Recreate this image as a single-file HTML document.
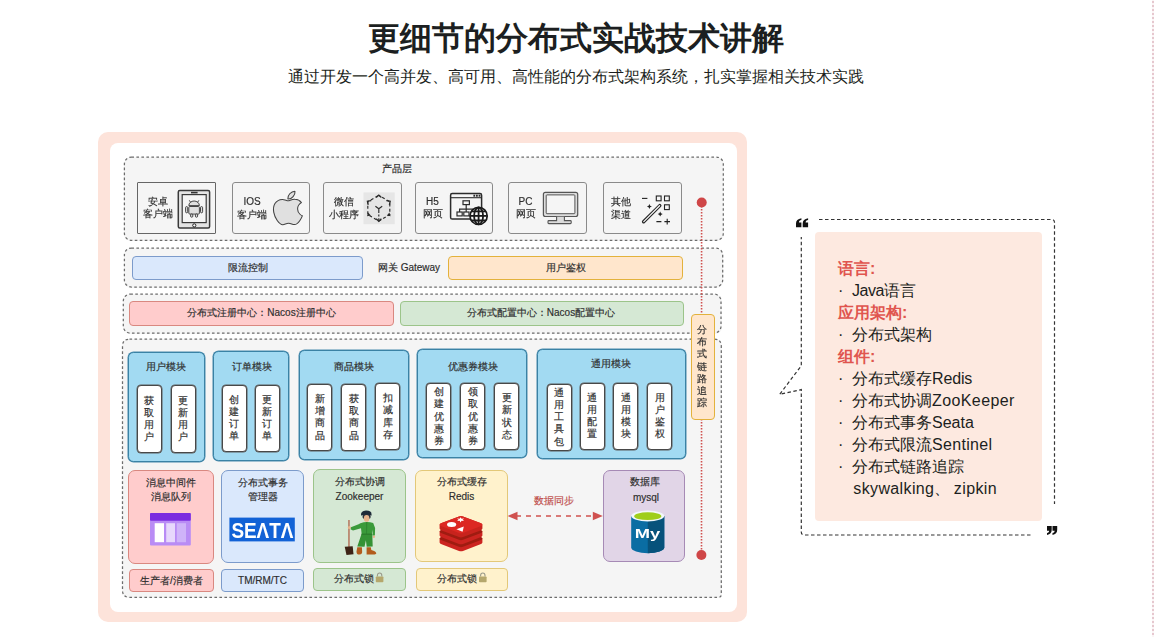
<!DOCTYPE html>
<html lang="zh"><head><meta charset="utf-8"><title>page</title>
<style>
html,body{margin:0;padding:0;background:#fff;}
body{width:1154px;height:637px;position:relative;overflow:hidden;font-family:"Liberation Sans",sans-serif;color:#333;}
.b{position:absolute;box-sizing:border-box;}
.t{position:absolute;text-align:center;font-size:10px;color:#2e2e2e;white-space:nowrap;-webkit-text-stroke:0.17px;}
.v span{display:block;}
h1{position:absolute;left:0;top:15px;width:1152px;margin:0;text-align:center;font-size:32px;line-height:46px;font-weight:bold;color:#1c1f21;letter-spacing:0;}
.sub{position:absolute;left:0;top:65px;width:1152px;text-align:center;font-size:16px;line-height:24px;color:#1c1f21;}
#dg{position:absolute;left:0;top:0;width:770px;height:637px;filter:blur(0.4px);}
.frame{background:#fde3da;border-radius:10px;}
.panel{background:#fff;border-radius:8px;}
.dash{background:#f5f5f5;border-radius:7px;}
.pb{background:#f5f5f5;border:1px solid #8a8a8a;border-radius:3px;}
.blue{background:#dae8fc;border:1px solid #7c9bcb;border-radius:4px;}
.orange{background:#ffe6cc;border:1px solid #e3b23c;border-radius:4px;}
.red{background:#ffcccc;border:1px solid #d98880;border-radius:4px;}
.green{background:#d5e8d4;border:1px solid #9cc48a;border-radius:4px;}
.yellow{background:#fff2cc;border:1px solid #e3c878;border-radius:4px;}
.purple{background:#e1d5e7;border:1px solid #a68ab5;border-radius:4px;}
.mod{background:#a2daf2;border:1px solid #3a82a5;border-radius:5.5px;box-shadow:0 0 0 0.5px #4a8cae;}
.in{background:#fff;border:1px solid #484848;border-radius:4px;box-shadow:0 0 0 0.5px #5c5c5c;}
.big{border-radius:7px;}
svg{position:absolute;overflow:visible;}
.rt{position:absolute;left:838px;font-size:16px;line-height:22px;color:#1c1f21;white-space:nowrap;}
.rt b{color:#e0554f;font-weight:bold;}
.rt i{font-style:normal;display:inline-block;width:14px;}
.rt u{text-decoration:none;letter-spacing:0.45px;}
</style></head><body>
<h1>更细节的分布式实战技术讲解</h1>
<div class="sub">通过开发一个高并发、高可用、高性能的分布式架构系统，扎实掌握相关技术实践</div>
<div class="b" style="left:1152px;top:0;width:2px;height:637px;background:repeating-linear-gradient(to bottom,#fbf4f5 0 1px,#e6c8cf 1px 3px,#fbf4f5 3px 4px);"></div>

<div id="dg">
<div class="b frame" style="left:97.5px;top:131.5px;width:649.5px;height:490.5px;"></div>
<div class="b panel" style="left:109.5px;top:142.5px;width:627px;height:469.5px;"></div>
<div class="b dash" style="left:124px;top:156.5px;width:599.5px;height:84px;"></div>
<div class="b dash" style="left:124px;top:247.5px;width:599px;height:40.5px;"></div>
<div class="b dash" style="left:123px;top:293.5px;width:598.5px;height:40px;"></div>
<div class="b dash" style="left:122px;top:338.7px;width:599.8px;height:259.1px;border-radius:7px 7px 3px 7px;"></div>
<svg width="1154" height="637" style="left:0;top:0;" viewBox="0 0 1154 637"><g fill="none" stroke="#6c6c6c" stroke-width="1.25" stroke-dasharray="2.6 2.4">
<rect x="124.4" y="157" width="598.9" height="83.3" rx="7"/>
<rect x="124.4" y="248" width="598.3" height="39" rx="7"/>
<rect x="123.3" y="294.1" width="597.7" height="39" rx="7"/>
<path d="M129.5,339.2 H714.3 Q721.3,339.2 721.3,346.2 V594.3 Q721.3,597.3 718.3,597.3 H129.5 Q122.5,597.3 122.5,590.3 V346.2 Q122.5,339.2 129.5,339.2 Z"/>
</g></svg>
<div class="t " style="left:336.5px;top:162.8px;width:120px;line-height:12px;">产品层</div>
<div class="b pb" style="left:137px;top:182px;width:79px;height:52px;border-radius:1px;border-color:#666;"></div>
<div class="b pb" style="left:232px;top:182px;width:78px;height:52px;"></div>
<div class="b pb" style="left:323px;top:182px;width:79px;height:52px;"></div>
<div class="b pb" style="left:415px;top:182px;width:78px;height:52px;"></div>
<div class="b pb" style="left:508px;top:182px;width:79px;height:52px;"></div>
<div class="b pb" style="left:603px;top:182px;width:79px;height:52px;"></div>
<div class="t " style="left:97.5px;top:195.7px;width:120px;line-height:12px;">安卓</div>
<div class="t " style="left:97.5px;top:208.3px;width:120px;line-height:12px;">客户端</div>
<div class="t " style="left:192.0px;top:196.2px;width:120px;line-height:12px;">IOS</div>
<div class="t " style="left:192.0px;top:208.8px;width:120px;line-height:12px;">客户端</div>
<div class="t " style="left:284.0px;top:196.2px;width:120px;line-height:12px;">微信</div>
<div class="t " style="left:284.0px;top:208.8px;width:120px;line-height:12px;">小程序</div>
<div class="t " style="left:372.5px;top:195.7px;width:120px;line-height:12px;">H5</div>
<div class="t " style="left:372.5px;top:208.3px;width:120px;line-height:12px;">网页</div>
<div class="t " style="left:465.5px;top:195.7px;width:120px;line-height:12px;">PC</div>
<div class="t " style="left:465.5px;top:208.3px;width:120px;line-height:12px;">网页</div>
<div class="t " style="left:561.0px;top:196.2px;width:120px;line-height:12px;">其他</div>
<div class="t " style="left:561.0px;top:208.8px;width:120px;line-height:12px;">渠道</div>
<div class="b blue" style="left:132px;top:256px;width:231px;height:24px;"></div>
<div class="t " style="left:187.5px;top:261.8px;width:120px;line-height:12px;">限流控制</div>
<div class="t " style="left:349.0px;top:261.8px;width:120px;line-height:12px;">网关 Gateway</div>
<div class="b orange" style="left:448px;top:256px;width:235px;height:24px;"></div>
<div class="t " style="left:505.5px;top:261.8px;width:120px;line-height:12px;">用户鉴权</div>
<div class="b red" style="left:129px;top:301px;width:265px;height:25px;"></div>
<div class="t " style="left:161.5px;top:307.2px;width:200px;line-height:12px;">分布式注册中心：Nacos注册中心</div>
<div class="b green" style="left:400px;top:301px;width:284px;height:25px;"></div>
<div class="t " style="left:441.0px;top:307.2px;width:200px;line-height:12px;">分布式配置中心：Nacos配置中心</div>
<div class="b mod" style="left:128px;top:352px;width:77px;height:110px;"></div>
<div class="t " style="left:106.2px;top:361.0px;width:120px;line-height:12px;">用户模块</div>
<div class="b in" style="left:137px;top:385px;width:25px;height:68px;"></div>
<div class="t v " style="left:139.2px;top:394.55px;width:20px;line-height:12.25px;"><span>获</span><span>取</span><span>用</span><span>户</span></div>
<div class="b in" style="left:171px;top:385px;width:25px;height:68px;"></div>
<div class="t v " style="left:173.3px;top:394.55px;width:20px;line-height:12.25px;"><span>更</span><span>新</span><span>用</span><span>户</span></div>
<div class="b mod" style="left:213px;top:351px;width:76px;height:110px;"></div>
<div class="t " style="left:191.5px;top:360.8px;width:120px;line-height:12px;">订单模块</div>
<div class="b in" style="left:222px;top:385px;width:25px;height:67px;"></div>
<div class="t v " style="left:224.3px;top:393.55px;width:20px;line-height:12.25px;"><span>创</span><span>建</span><span>订</span><span>单</span></div>
<div class="b in" style="left:255px;top:385px;width:25px;height:67px;"></div>
<div class="t v " style="left:257.1px;top:393.55px;width:20px;line-height:12.25px;"><span>更</span><span>新</span><span>订</span><span>单</span></div>
<div class="b mod" style="left:299px;top:350px;width:110px;height:110px;"></div>
<div class="t " style="left:294.0px;top:360.6px;width:120px;line-height:12px;">商品模块</div>
<div class="b in" style="left:307px;top:384px;width:25px;height:67px;"></div>
<div class="t v " style="left:309.9px;top:392.90px;width:20px;line-height:12.25px;"><span>新</span><span>增</span><span>商</span><span>品</span></div>
<div class="b in" style="left:341px;top:384px;width:25px;height:67px;"></div>
<div class="t v " style="left:344.0px;top:392.90px;width:20px;line-height:12.25px;"><span>获</span><span>取</span><span>商</span><span>品</span></div>
<div class="b in" style="left:375px;top:383px;width:25px;height:67px;"></div>
<div class="t v " style="left:378.0px;top:392.20px;width:20px;line-height:12.25px;"><span>扣</span><span>减</span><span>库</span><span>存</span></div>
<div class="b mod" style="left:417px;top:349px;width:110px;height:109px;"></div>
<div class="t " style="left:412.6px;top:360.6px;width:120px;line-height:12px;">优惠券模块</div>
<div class="b in" style="left:426px;top:383px;width:25px;height:67px;"></div>
<div class="t v " style="left:428.7px;top:386.07px;width:20px;line-height:12.25px;"><span>创</span><span>建</span><span>优</span><span>惠</span><span>券</span></div>
<div class="b in" style="left:460px;top:383px;width:25px;height:67px;"></div>
<div class="t v " style="left:462.8px;top:386.07px;width:20px;line-height:12.25px;"><span>领</span><span>取</span><span>优</span><span>惠</span><span>券</span></div>
<div class="b in" style="left:494px;top:383px;width:25px;height:67px;"></div>
<div class="t v " style="left:496.9px;top:392.20px;width:20px;line-height:12.25px;"><span>更</span><span>新</span><span>状</span><span>态</span></div>
<div class="b mod" style="left:537px;top:349px;width:149px;height:110px;"></div>
<div class="t " style="left:551.1px;top:358.0px;width:120px;line-height:12px;">通用模块</div>
<div class="b in" style="left:547px;top:384px;width:25px;height:67px;"></div>
<div class="t v " style="left:549.2px;top:386.68px;width:20px;line-height:12.25px;"><span>通</span><span>用</span><span>工</span><span>具</span><span>包</span></div>
<div class="b in" style="left:580px;top:383px;width:25px;height:67px;"></div>
<div class="t v " style="left:582.1px;top:391.65px;width:20px;line-height:12.25px;"><span>通</span><span>用</span><span>配</span><span>置</span></div>
<div class="b in" style="left:613px;top:383px;width:25px;height:67px;"></div>
<div class="t v " style="left:615.9px;top:391.65px;width:20px;line-height:12.25px;"><span>通</span><span>用</span><span>模</span><span>块</span></div>
<div class="b in" style="left:647px;top:383px;width:25px;height:67px;"></div>
<div class="t v " style="left:650.0px;top:391.65px;width:20px;line-height:12.25px;"><span>用</span><span>户</span><span>鉴</span><span>权</span></div>
<div class="b red big" style="left:128px;top:470px;width:86px;height:94px;"></div>
<div class="t " style="left:111.0px;top:477.0px;width:120px;line-height:12px;">消息中间件</div>
<div class="t " style="left:111.0px;top:490.5px;width:120px;line-height:12px;">消息队列</div>
<div class="b blue big" style="left:221px;top:470px;width:83px;height:93px;"></div>
<div class="t " style="left:202.5px;top:477.0px;width:120px;line-height:12px;">分布式事务</div>
<div class="t " style="left:202.5px;top:490.5px;width:120px;line-height:12px;">管理器</div>
<div class="b green big" style="left:313px;top:469px;width:93px;height:94px;"></div>
<div class="t " style="left:299.5px;top:476.0px;width:120px;line-height:12px;">分布式协调</div>
<div class="t " style="left:299.5px;top:491.0px;width:120px;line-height:12px;">Zookeeper</div>
<div class="b yellow big" style="left:415px;top:470px;width:93px;height:92px;"></div>
<div class="t " style="left:401.5px;top:476.0px;width:120px;line-height:12px;">分布式缓存</div>
<div class="t " style="left:401.5px;top:491.0px;width:120px;line-height:12px;">Redis</div>
<div class="b purple big" style="left:603px;top:470px;width:82px;height:92px;"></div>
<div class="t " style="left:584.5px;top:476.0px;width:120px;line-height:12px;">数据库</div>
<div class="t " style="left:586.0px;top:491.5px;width:120px;line-height:12px;">mysql</div>
<div class="b red" style="left:129px;top:569px;width:85px;height:23px;"></div>
<div class="t " style="left:111.3px;top:574.5px;width:120px;line-height:12px;">生产者/消费者</div>
<div class="b blue" style="left:221px;top:569px;width:83px;height:23px;"></div>
<div class="t " style="left:202.5px;top:574.5px;width:120px;line-height:12px;">TM/RM/TC</div>
<div class="b green" style="left:313px;top:568px;width:93px;height:23px;"></div>
<div class="t " style="left:294.0px;top:573.3px;width:120px;line-height:12px;">分布式锁</div>
<div class="b yellow" style="left:416px;top:568px;width:92px;height:23px;"></div>
<div class="t " style="left:397.2px;top:573.3px;width:120px;line-height:12px;">分布式锁</div>
<div class="t " style="left:494.3px;top:495.0px;width:120px;line-height:12px;color:#c0504d;">数据同步</div>
<svg width="1154" height="637" style="left:0;top:0;" viewBox="0 0 1154 637">
<line x1="701.6" y1="203" x2="701.5" y2="555" stroke="#d0514f" stroke-width="1.6" stroke-dasharray="1.4 1.6"/>
<circle cx="701.7" cy="202.5" r="5" fill="#cf4647"/>
<circle cx="701.4" cy="555" r="5" fill="#cf4647"/>
</svg>
<div class="b orange" style="left:691px;top:314px;width:24px;height:106px;"></div>
<div class="t v " style="left:692.4px;top:323.93px;width:20px;line-height:12.25px;"><span>分</span><span>布</span><span>式</span><span>链</span><span>路</span><span>追</span><span>踪</span></div>
<svg width="1154" height="637" style="left:0;top:0;" viewBox="0 0 1154 637">
<!-- sync arrow -->
<line x1="516" y1="516" x2="595" y2="516" stroke="#d0514f" stroke-width="1.7" stroke-dasharray="5 5"/>
<path d="M507.5,516 L517.5,511.8 L517.5,520.2 Z" fill="#d0514f"/>
<path d="M602.8,516 L592.8,511.8 L592.8,520.2 Z" fill="#d0514f"/>


<!-- android tablet -->
<rect x="178.3" y="190.6" width="31.3" height="37.4" rx="1.5" fill="#e4e4e4" stroke="#3a3a3a" stroke-width="1.5"/>
<rect x="182.2" y="194.6" width="24" height="28" fill="#f5f5f5" stroke="#3a3a3a" stroke-width="1.2"/>
<line x1="191" y1="192.6" x2="197.6" y2="192.6" stroke="#333" stroke-width="1.6"/>
<circle cx="194.3" cy="225.4" r="1.6" fill="#fff" stroke="#222" stroke-width="1"/>
<g stroke="#333" stroke-width="0.9" fill="#e0e0e0">
<path d="M188.8,205.6 A5.3,4.6 0 0 1 199.4,205.6 Z"/>
<rect x="188.8" y="206.5" width="10.6" height="7.6" rx="1"/>
<rect x="185.6" y="206.6" width="2.1" height="6.2" rx="1"/>
<rect x="200.5" y="206.6" width="2.1" height="6.2" rx="1"/>
<rect x="190.6" y="214" width="2.2" height="3.2" rx="1"/>
<rect x="195.4" y="214" width="2.2" height="3.2" rx="1"/>
<line x1="190.6" y1="202.3" x2="189.3" y2="200.3"/>
<line x1="197.6" y1="202.3" x2="198.9" y2="200.3"/>
</g>

<!-- apple -->
<g transform="translate(266.6,187.9) scale(1.78,1.67)">
<path d="M18.71 19.5c-.83 1.24-1.71 2.45-3.05 2.47-1.34.03-1.77-.79-3.29-.79-1.53 0-2 .77-3.27.82-1.31.05-2.3-1.32-3.14-2.53C4.25 17 2.94 12.45 4.7 9.39c.87-1.52 2.43-2.48 4.12-2.51 1.28-.02 2.5.87 3.29.87.78 0 2.26-1.07 3.81-.91.65.03 2.47.26 3.64 1.98-.09.06-2.17 1.28-2.15 3.81.03 3.02 2.65 4.03 2.68 4.04-.03.07-.42 1.44-1.38 2.83M13 3.5c.73-.83 1.94-1.46 2.94-1.5.13 1.17-.34 2.35-1.04 3.19-.69.85-1.83 1.51-2.95 1.42-.15-1.15.41-2.35 1.05-3.11z" fill="#e0e0e0" stroke="#444" stroke-width="0.6" stroke-linejoin="round"/>
</g>

<!-- wechat mini program -->
<rect x="363.5" y="192.4" width="31.2" height="31.8" fill="#e6e6e6"/>
<g stroke="#2b2b2b" stroke-width="1.15" fill="none">
<path d="M378.8,195.4 L389.8,201.7 V214.6 L378.8,221 L367.8,214.6 V201.7 Z" stroke-dasharray="3 2.3" stroke-dashoffset="1.5"/>
<path d="M378.8,208.8 V213 M378.8,208.8 L375.4,206.2 M378.8,208.8 L382.2,206.2"/>
<path d="M378.8,214.6 V220.4" stroke-dasharray="2 1.6"/>
<path d="M376.2,197.5 L378.8,195.1 L381.4,197.5" stroke-width="1.3"/>
<path d="M376.2,218.7 L378.8,221.3 L381.4,218.7" stroke-width="1.3"/>
<path d="M386.4,200.7 L390.2,201.2 L389.4,204.8" stroke-width="1.3"/>
<path d="M371.2,200.7 L367.4,201.2 L368.2,204.8" stroke-width="1.3"/>
</g>
<g fill="#2b2b2b">
<path d="M367,216.2 l3.8,-0.6 l-2.6,-3.2 z"/>
<path d="M390.6,216.2 l-3.8,-0.6 l2.6,-3.2 z"/>
</g>

<!-- h5 browser -->
<rect x="450.6" y="193.6" width="31" height="25.4" rx="1.6" fill="#f5f5f5" stroke="#2b2b2b" stroke-width="1.5"/>
<line x1="450.6" y1="197.7" x2="481.6" y2="197.7" stroke="#2b2b2b" stroke-width="1.1"/>
<rect x="473.4" y="194.7" width="1.8" height="2" fill="#2b2b2b"/><rect x="476" y="194.7" width="1.8" height="2" fill="#2b2b2b"/><rect x="478.6" y="194.7" width="1.8" height="2" fill="#2b2b2b"/>
<g stroke="#2b2b2b" stroke-width="1.2" fill="#f5f5f5">
<rect x="463" y="200.8" width="6.4" height="3.8"/>
<path d="M466.2,204.6 V212 M459.6,212 V209.2 H472.8 V212" fill="none"/>
<rect x="457" y="212" width="5.2" height="3.9"/>
<rect x="463.8" y="212" width="5.2" height="3.9"/>
</g>
<circle cx="478.6" cy="215.9" r="8.6" fill="#fafafa" stroke="#1a1a1a" stroke-width="1.7"/>
<g stroke="#1a1a1a" stroke-width="1.8" fill="none">
<line x1="478.6" y1="207.6" x2="478.6" y2="224.2"/>
<ellipse cx="478.6" cy="215.9" rx="4.5" ry="8.4"/>
<line x1="470.4" y1="215.9" x2="486.8" y2="215.9"/>
<path d="M471.4,211.3 H485.8 M471.4,220.5 H485.8"/>
</g>

<!-- pc monitor -->
<rect x="543.4" y="192.3" width="34.3" height="24.2" rx="2" fill="#dcdcdc" stroke="#555" stroke-width="1.2"/>
<rect x="546.2" y="194.9" width="28.7" height="18.8" rx="0.8" fill="#f5f5f5" stroke="#555" stroke-width="1"/>
<path d="M556.6,216.8 V220.6 H548.8 Q548,220.6 548,221.4 V222.8 Q548,223.6 548.8,223.6 H570.4 Q571.2,223.6 571.2,222.8 V221.4 Q571.2,220.6 570.4,220.6 H564.4 V216.8" fill="#dcdcdc" stroke="#555" stroke-width="1.1"/>

<!-- wand -->
<g stroke="#222" fill="none" stroke-width="1.1">
<rect x="656.3" y="196" width="4.8" height="4.8"/>
<rect x="664.5" y="196" width="4.8" height="4.8"/>
<rect x="664.5" y="204.8" width="4.8" height="4.8"/>
<path d="M642,198.4 H647.4"/>
<path d="M656.4,221.6 H661.4 M664.4,221.6 H670 M667.2,218.8 V224.4"/>
</g>
<line x1="643.6" y1="221.8" x2="659.8" y2="205.6" stroke="#222" stroke-width="3.4" stroke-linecap="round"/>
<line x1="643.8" y1="221.6" x2="659.6" y2="205.8" stroke="#f5f5f5" stroke-width="1.3" stroke-linecap="round"/>
<path d="M649.4,204 l0.8,1.7 l1.7,0.8 l-1.7,0.8 l-0.8,1.7 l-0.8,-1.7 l-1.7,-0.8 l1.7,-0.8 z" fill="#222"/>
<path d="M660.2,211.6 l0.8,1.7 l1.7,0.8 l-1.7,0.8 l-0.8,1.7 l-0.8,-1.7 l-1.7,-0.8 l1.7,-0.8 z" fill="#222"/>

<!-- MQ icon -->
<rect x="150" y="513.1" width="40.8" height="32.4" rx="1" fill="#b98cf5"/>
<rect x="150" y="513.1" width="40.8" height="7.6" rx="1" fill="#7b2ce0"/>
<rect x="154.7" y="523.2" width="9.3" height="19" fill="#ffffff"/>
<rect x="166.2" y="523.2" width="8.8" height="19" fill="#e7d8fc"/>
<rect x="176.8" y="523.2" width="9.2" height="19" fill="#cfb3f9"/>

<!-- SEATA -->
<rect x="229.4" y="517.6" width="65.4" height="23.8" fill="#1262d6"/>
<text x="262.4" y="537.6" font-family="Liberation Sans, sans-serif" font-weight="bold" font-size="22.6" fill="#fff" text-anchor="middle" textLength="62" lengthAdjust="spacingAndGlyphs">SE&#923;T&#923;</text>

<!-- zookeeper -->
<g>
<rect x="348.1" y="520" width="1.7" height="27.4" fill="#b9826a"/>
<path d="M344.7,546.8 L352.7,546.2 L353.5,554.2 L346.5,554.9 Z" fill="#3d2316"/>
<path d="M361,515.4 Q360.4,511.2 366,510.6 Q371.8,510.8 371.5,514.2 L371.7,515.4 L366,515 Z" fill="#1e2a38"/>
<rect x="362.7" y="514.6" width="7.8" height="4.2" rx="1.6" fill="#2c313c"/>
<ellipse cx="366.6" cy="518.4" rx="2.8" ry="3.4" fill="#e8b48c"/>
<path d="M360.4,523.2 Q366.8,520.9 373.2,523 L375.1,528 L374.9,535.6 L372.7,535.8 L372.5,529.6 L371.9,534.4 L361.7,534.4 L361,528.2 L353,530.6 L350.5,529.2 L350.9,527.2 L358.6,524.2 Z" fill="#3a9a3a"/>
<path d="M366.4,522 L367.2,522 L367,534 L366.4,534 Z" fill="#2b7f2f"/>
<circle cx="349.3" cy="527.5" r="1.5" fill="#e8b48c"/>
<circle cx="373.9" cy="536.7" r="1.2" fill="#e8b48c"/>
<path d="M361.5,533.9 L372.3,533.9 L372.7,546.5 L366.7,546.7 L365.9,540.2 L364.5,546.7 L357.3,546.5 Z" fill="#359235"/>
<path d="M361.6,533.6 H372.2 V534.8 H361.6 Z" fill="#2b7a2b"/>
<path d="M357.3,547.2 h4.6 l0.2,3.2 q0.6,4 -2.6,4.2 q-3,0.1 -3,-3.2 z" fill="#b25c1d"/>
<path d="M366.6,547.2 h4.2 l0.5,2.7 q5,1.3 5,3.5 q-0.3,1.5 -9.7,1.1 z" fill="#b25c1d"/>
</g>

<!-- redis -->
<g>
<path d="M439.6,538.6 Q439.6,537.6 441.6,537.0 L459,530.4 Q461,529.6 463,530.4 L480.4,537.0 Q482.4,537.6 482.4,538.6 V542.5 Q482.4,543.5 480.4,544.3 L463,550.9 Q461,551.7 459,550.9 L441.6,544.3 Q439.6,543.5 439.6,542.5 Z" fill="#cc2420"/><path d="M439.6,538.6 Q439.6,537.6 441.6,537.0 L459,530.4 Q461,529.6 463,530.4 L480.4,537.0 Q482.4,537.6 482.4,538.6 Q482.4,539.6 480.4,540.2 L463,546.8000000000001 Q461,547.6 459,546.8000000000001 L441.6,540.2 Q439.6,539.6 439.6,538.6 Z" fill="#9f1c11"/>
<path d="M439.6,531.6 Q439.6,530.6 441.6,530.0 L459,523.4 Q461,522.6 463,523.4 L480.4,530.0 Q482.4,530.6 482.4,531.6 V535.5 Q482.4,536.5 480.4,537.3 L463,543.9 Q461,544.7 459,543.9 L441.6,537.3 Q439.6,536.5 439.6,535.5 Z" fill="#cc2420"/><path d="M439.6,531.6 Q439.6,530.6 441.6,530.0 L459,523.4 Q461,522.6 463,523.4 L480.4,530.0 Q482.4,530.6 482.4,531.6 Q482.4,532.6 480.4,533.2 L463,539.8000000000001 Q461,540.6 459,539.8000000000001 L441.6,533.2 Q439.6,532.6 439.6,531.6 Z" fill="#9f1c11"/>
<path d="M439.6,524.7 Q439.6,523.7 441.6,523.1 L459,516.5 Q461,515.7 463,516.5 L480.4,523.1 Q482.4,523.7 482.4,524.7 V528.6 Q482.4,529.6 480.4,530.4 L463,537.0 Q461,537.8000000000001 459,537.0 L441.6,530.4 Q439.6,529.6 439.6,528.6 Z" fill="#c8231d"/><path d="M439.6,524.7 Q439.6,523.7 441.6,523.1 L459,516.5 Q461,515.7 463,516.5 L480.4,523.1 Q482.4,523.7 482.4,524.7 Q482.4,525.7 480.4,526.3000000000001 L463,532.9000000000001 Q461,533.7 459,532.9000000000001 L441.6,526.3000000000001 Q439.6,525.7 439.6,524.7 Z" fill="#dc2822"/>
<ellipse cx="451.6" cy="524.4" rx="4.6" ry="2.5" fill="#fff"/>
<path d="M460.6,517.2 l0.9,1.6 l2.7,-0.4 l-1.6,1.4 l1.6,1.2 l-2.7,-0.2 l-0.9,1.6 l-0.9,-1.6 l-2.7,0.2 l1.6,-1.2 l-1.6,-1.4 l2.7,0.4 z" fill="#fff"/>
<path d="M456.4,529.2 L463.8,526.6 L462.6,531.8 Z" fill="#fff"/>
</g>

<!-- mysql -->
<g>
<path d="M631.2,516 V547.6 A16.55,5.6 0 0 0 664.3,547.6 V516 Z" fill="#0a6da3"/>
<path d="M647.8,521 V553.2 A16.55,5.6 0 0 0 664.3,547.6 V516 Z" fill="#07527b"/>
<ellipse cx="647.75" cy="516" rx="16.55" ry="5.4" fill="#f2f7fa"/>
<ellipse cx="647.75" cy="516.2" rx="13.6" ry="3.9" fill="#9fce1b"/>
<text x="647.4" y="538.2" font-family="Liberation Sans, sans-serif" font-weight="bold" font-size="13.6" fill="#fff" text-anchor="middle" textLength="25.5" lengthAdjust="spacingAndGlyphs">My</text>
</g>

<!-- locks -->
<g id="lk1">
<path d="M377.4,576.6 V575.4 A2.2,2.4 0 0 1 381.8,575.4 V576.6" fill="none" stroke="#9a9a8a" stroke-width="1.1"/>
<rect x="375.8" y="576.4" width="7.6" height="5.8" rx="0.8" fill="#b5a76c"/>
</g>
<g id="lk2">
<path d="M480.6,576.6 V575.4 A2.2,2.4 0 0 1 485,575.4 V576.6" fill="none" stroke="#9a9a8a" stroke-width="1.1"/>
<rect x="479" y="576.4" width="7.6" height="5.8" rx="0.8" fill="#b5a76c"/>
</g>
</svg>
</div>
<svg width="1154" height="637" style="left:0;top:0;" viewBox="0 0 1154 637">
<!-- speech bubble -->
<path d="M819,219.5 H1051.5 Q1054.5,219.5 1054.5,222.5 V504" fill="none" stroke="#333" stroke-width="1.2" stroke-dasharray="3.5 2.5"/>
<path d="M1030.5,535 H804.2 Q801.3,535 801.3,532 V389.6 L779.6,394.4 L801.3,365.8 V237" fill="none" stroke="#333" stroke-width="1.2" stroke-dasharray="3.5 2.5"/>
<path transform="translate(796,218.2)" d="M0,9 L0,5.2 C0,2.4 1.8,0.6 5.4,0 L5.4,1.9 C3.7,2.3 3,3 2.9,4.2 L5.4,4.2 L5.4,9 Z" fill="#111"/><path transform="translate(802.7,218.2)" d="M0,9 L0,5.2 C0,2.4 1.8,0.6 5.4,0 L5.4,1.9 C3.7,2.3 3,3 2.9,4.2 L5.4,4.2 L5.4,9 Z" fill="#111"/><path transform="translate(1051.7,535) rotate(180) scale(0.87,1)" d="M0,9 L0,5.2 C0,2.4 1.8,0.6 5.4,0 L5.4,1.9 C3.7,2.3 3,3 2.9,4.2 L5.4,4.2 L5.4,9 Z" fill="#111"/><path transform="translate(1057.2,535) rotate(180) scale(0.87,1)" d="M0,9 L0,5.2 C0,2.4 1.8,0.6 5.4,0 L5.4,1.9 C3.7,2.3 3,3 2.9,4.2 L5.4,4.2 L5.4,9 Z" fill="#111"/>

</svg>
<div class="b" style="left:815.3px;top:232px;width:226.5px;height:288.8px;background:#fde9e0;border-radius:4px;"></div>
<div class="rt" style="top:257.6px;"><b>语言:</b></div>
<div class="rt" style="top:279.6px;"><i>·</i><u style="letter-spacing:-0.5px">Java</u>语言</div>
<div class="rt" style="top:301.6px;"><b>应用架构:</b></div>
<div class="rt" style="top:323.6px;"><i>·</i>分布式架构</div>
<div class="rt" style="top:345.6px;"><b>组件:</b></div>
<div class="rt" style="top:367.6px;"><i>·</i>分布式缓存<u style="letter-spacing:-0.15px">Redis</u></div>
<div class="rt" style="top:389.6px;"><i>·</i>分布式协调<u style="letter-spacing:0.4px">ZooKeeper</u></div>
<div class="rt" style="top:411.6px;"><i>·</i>分布式事务<u style="letter-spacing:0">Seata</u></div>
<div class="rt" style="top:433.6px;"><i>·</i>分布式限流<u style="letter-spacing:0.33px">Sentinel</u></div>
<div class="rt" style="top:455.6px;"><i>·</i>分布式链路追踪</div>
<div class="rt" style="top:477.6px;"><i></i><u style="margin-left:1.3px;letter-spacing:0.37px">skywalking</u>、<u style="margin-left:3.5px;letter-spacing:0.38px">zipkin</u></div>
</body></html>
